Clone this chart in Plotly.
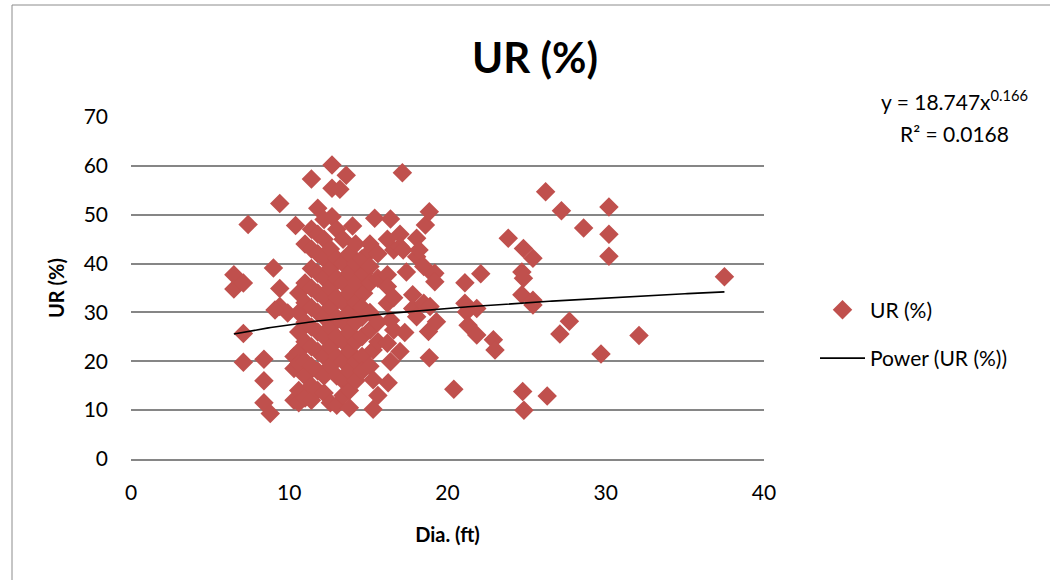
import numpy as np
import plotly.graph_objects as go

# Diameter (ft) and UR (%) observations
dia_ft = [
    6.5, 6.5, 7.1, 7.1, 7.1, 7.4, 8.4, 8.4, 8.4, 8.8, 9.0, 9.4, 9.4, 9.4, 9.9, 9.1,
    10.3, 10.3, 10.3, 10.4,
    10.6, 10.6, 10.6, 10.6, 10.6, 10.6, 10.6,
    11.0, 11.0, 11.0, 11.0, 11.0, 11.0, 11.0, 11.0,
    11.4, 11.4, 11.4, 11.4, 11.4, 11.4, 11.4, 11.4, 11.4, 11.4, 11.4,
    11.8, 11.8, 11.8, 11.8, 11.8, 11.8, 11.8, 11.8, 11.8, 11.8,
    12.2, 12.2, 12.2, 12.2, 12.2, 12.2, 12.2, 12.2, 12.2, 12.2,
    12.7, 12.7, 12.7, 12.6, 12.6, 12.6, 12.6, 12.6, 12.6, 12.6, 12.6,
    13.2, 13.0, 13.0, 13.0, 13.0, 13.0, 13.0, 13.0, 13.0, 13.0,
    13.6, 13.4, 13.4, 13.4, 13.4, 13.4, 13.4, 13.4, 13.4, 13.4,
    14.0, 13.8, 13.8, 13.8, 13.8, 13.8, 13.8, 13.8, 13.8, 13.8,
    14.2, 14.2, 14.2, 14.2, 14.2, 14.2, 14.2, 14.2,
    14.7, 14.7, 14.6, 14.6, 14.6, 14.6, 14.6, 14.6,
    15.1, 15.1, 15.1, 15.1, 15.1, 15.1, 15.3, 15.1, 15.3, 15.3,
    15.4, 15.6, 15.6, 15.6, 15.6, 15.6,
    16.4, 16.2, 16.2, 16.2, 16.2, 16.4, 16.2, 16.4, 16.25,
    16.6, 16.6, 16.6, 17.0, 17.0, 17.2, 17.0,
    17.15, 17.3, 17.4, 17.8, 17.8, 18.05, 18.05, 18.05, 18.2,
    18.5, 18.5, 18.6, 18.85, 18.8, 18.9, 18.85,
    19.1, 19.2, 19.2, 19.3,
    20.4, 21.1, 21.1, 21.2, 21.3, 21.85, 21.85, 22.1, 22.9, 23.0,
    23.84, 24.7, 24.8, 24.8, 24.7, 24.75, 24.83, 25.4, 25.4, 25.4,
    26.2, 26.3, 27.1, 27.2, 27.7, 28.6, 29.7, 30.2, 30.2, 30.2, 32.1, 37.5,
]
ur_pct = [
    37.7, 34.8, 36.0, 25.7, 19.8, 48.0, 20.4, 16.0, 11.5, 9.3, 39.1, 52.3, 34.9, 31.2, 29.9, 30.5,
    21.0, 18.5, 12.0, 47.8,
    34.0, 30.0, 26.0, 22.0, 19.5, 14.0, 11.5,
    36.0, 32.0, 28.0, 24.0, 20.0, 17.0, 12.5, 44.0,
    57.3, 47.0, 43.0, 39.0, 35.0, 31.0, 27.0, 23.0, 19.0, 15.0, 12.0,
    51.3, 46.0, 42.0, 38.0, 34.0, 30.0, 26.0, 22.0, 18.0, 14.0,
    49.0, 45.0, 41.0, 37.0, 33.0, 29.0, 25.0, 21.0, 17.0, 13.5,
    60.2, 55.4, 49.6, 43.0, 39.0, 35.0, 31.0, 27.0, 23.0, 19.0, 11.5,
    55.2, 47.0, 41.0, 37.0, 33.0, 29.0, 25.0, 21.0, 17.0, 11.0,
    58.1, 45.0, 40.0, 36.0, 32.0, 28.0, 24.0, 20.0, 16.0, 13.0,
    47.7, 42.0, 38.0, 34.0, 30.0, 26.0, 22.0, 18.0, 10.5, 14.0,
    44.0, 40.0, 36.0, 32.0, 28.0, 24.0, 20.0, 16.0,
    38.0, 33.9, 41.0, 29.0, 25.0, 21.0, 18.0, 31.0,
    44.0, 42.4, 39.4, 36.0, 30.0, 26.4, 22.3, 19.0, 16.2, 10.2,
    49.3, 42.0, 37.0, 28.0, 24.0, 13.0,
    49.1, 45.0, 37.7, 35.3, 31.9, 28.4, 23.7, 19.9, 15.6,
    42.8, 33.0, 26.4, 46.0, 43.5, 42.8, 22.0,
    58.6, 25.9, 38.3, 33.6, 30.8, 45.2, 41.4, 29.1, 42.8,
    39.4, 31.9, 47.9, 50.6, 26.1, 31.2, 20.7,
    37.7, 38.0, 36.3, 28.1,
    14.3, 36.1, 31.9, 30.1, 27.4, 25.4, 30.8, 37.9, 24.4, 22.3,
    45.2, 38.3, 37.0, 43.1, 33.6, 13.8, 10.0, 41.1, 32.5, 31.5,
    54.7, 12.9, 25.6, 50.8, 28.2, 47.3, 21.5, 51.6, 46.0, 41.5, 25.3, 37.3,
]

# Power trendline coefficients (y = a * x^b)
fit_a = 18.747
fit_b = 0.166
fit_r2 = 0.0168

x_fit = np.linspace(min(dia_ft), max(dia_ft), 200)
y_fit = fit_a * x_fit ** fit_b

FONT = "Lato"
GRID = "#868686"

fig = go.Figure()
fig.add_trace(go.Scatter(
    x=dia_ft, y=ur_pct, mode="markers", name="UR (%)",
    legendgroup="a",
    marker=dict(symbol="diamond", size=15, color="#C0504D", line=dict(width=0)),
))
fig.add_trace(go.Scatter(
    x=x_fit, y=y_fit, mode="lines", name="Power (UR (%))",
    legendgroup="b",
    line=dict(color="black", width=1.6),
))

fig.update_layout(
    width=1050, height=580,
    margin=dict(l=131, r=286, t=117, b=121),
    paper_bgcolor="white", plot_bgcolor="white",
    font=dict(family=FONT, color="black", size=21),
    title=dict(text="<b>UR (%)</b>", x=535 / 1050, xanchor="center",
               y=1 - 58 / 580, yanchor="middle",
               font=dict(family=FONT, size=42, color="black")),
    showlegend=True,
    legend=dict(x=(815 - 131) / 633, xanchor="left", y=0.495, yanchor="top",
                font=dict(family=FONT, size=21), traceorder="grouped",
                itemwidth=45, tracegroupgap=18, bgcolor="rgba(0,0,0,0)"),
    xaxis=dict(range=[0, 40], dtick=10, showgrid=False, zeroline=False,
               showline=True, linecolor=GRID, linewidth=1.5,
               ticks="", ticklabelstandoff=14,
               tickfont=dict(family=FONT, size=21),
               title=dict(text="<b>Dia. (ft)</b>", font=dict(family=FONT, size=20),
                          standoff=25)),
    yaxis=dict(range=[0, 70], dtick=10, showgrid=True, gridcolor=GRID, gridwidth=1.6,
               zeroline=False, showline=False,
               ticks="", ticklabelstandoff=22,
               tickfont=dict(family=FONT, size=21),
               title=dict(text="<b>UR (%)</b>", font=dict(family=FONT, size=20),
                          standoff=13)),
    annotations=[
        dict(text="y = 18.747x<sup>0.166</sup>", xref="paper", yref="paper",
             x=(954 - 131) / 633, y=(459 - 100) / 342, xanchor="center", yanchor="middle",
             showarrow=False, font=dict(family=FONT, size=21)),
        dict(text=f"R² = {fit_r2}", xref="paper", yref="paper",
             x=(954 - 131) / 633, y=(459 - 133) / 342, xanchor="center", yanchor="middle",
             showarrow=False, font=dict(family=FONT, size=21)),
    ],
    shapes=[
        # chart-area frame
        dict(type="line", xref="paper", yref="paper",
             x0=(12 - 131) / 633, x1=(12 - 131) / 633,
             y0=(459 - 5) / 342, y1=(459 - 580) / 342,
             line=dict(color="#8c8c8c", width=1)),
        dict(type="line", xref="paper", yref="paper",
             x0=(12 - 131) / 633, x1=(1050 - 131) / 633,
             y0=(459 - 5) / 342, y1=(459 - 5) / 342,
             line=dict(color="#8c8c8c", width=1)),
    ],
)

fig.write_html("out.html")
